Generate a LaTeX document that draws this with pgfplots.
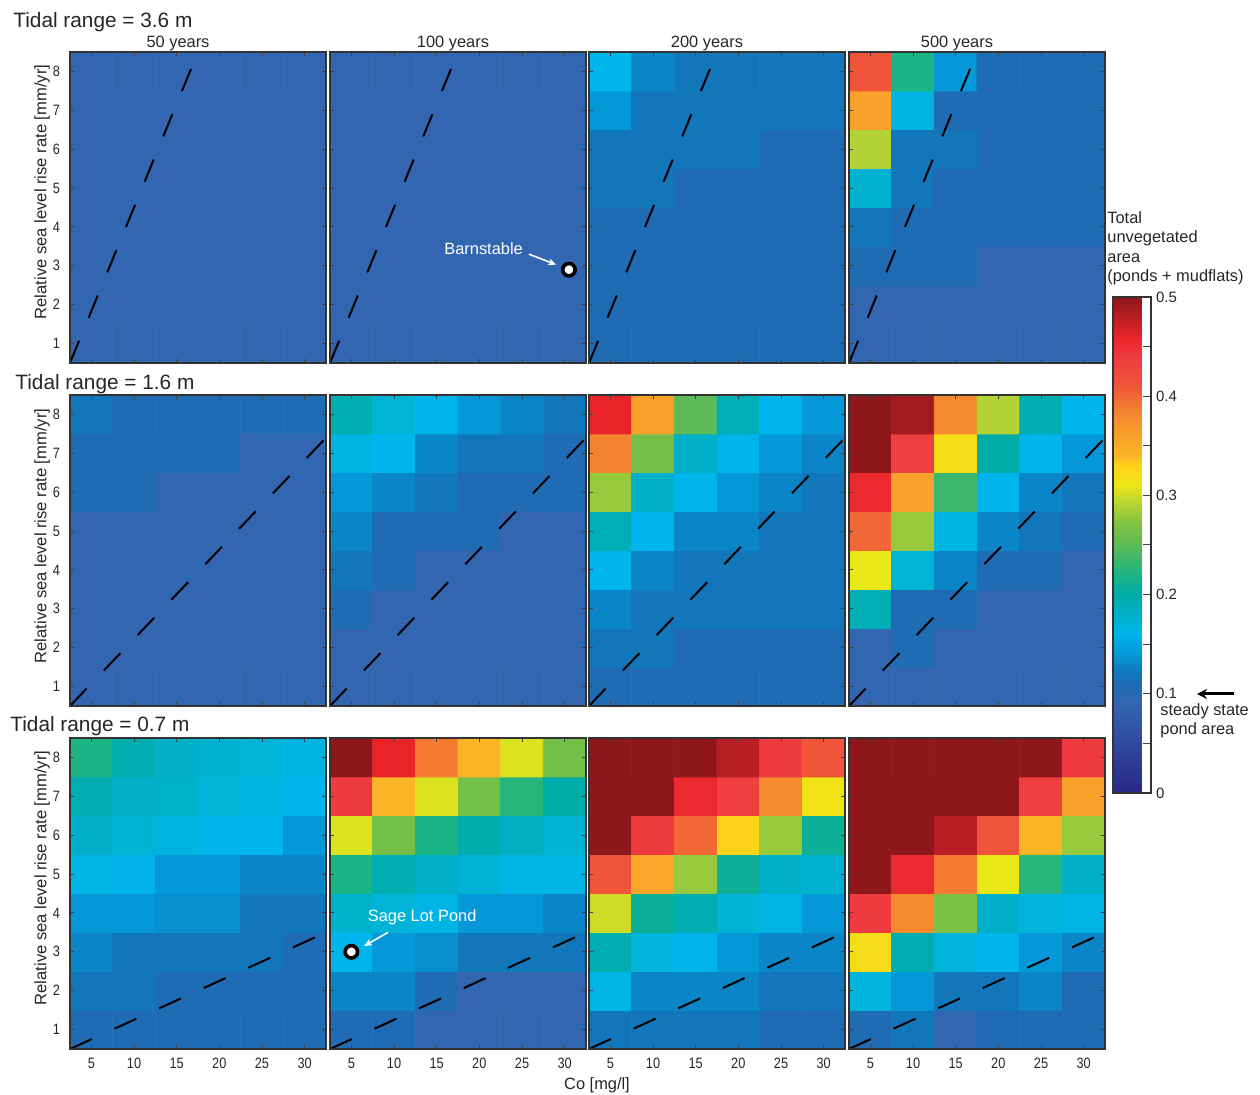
\documentclass[border=0pt]{standalone}
\usepackage{fontspec}
\setmainfont{Liberation Sans}
\newfontfamily\tickfont{Liberation Sans}[FakeStretch=0.85]
\usepackage{pgfplots}
\usepackage{pgfplotstable}
\pgfplotsset{compat=1.18}
\usetikzlibrary{arrows.meta}
\newcommand\fs[2]{\fontsize{#1}{#2}\selectfont}

\pgfplotsset{colormap={tidal}{
 rgb255(0pt)=(40,40,135)
 rgb255(5pt)=(48,72,160)
 rgb255(9pt)=(51,102,176)
 rgb255(11pt)=(31,108,181)
 rgb255(12pt)=(15,120,189)
 rgb255(13pt)=(10,134,200)
 rgb255(14pt)=(5,152,216)
 rgb255(16pt)=(0,180,236)
 rgb255(17pt)=(0,180,216)
 rgb255(18pt)=(0,176,200)
 rgb255(20pt)=(0,172,168)
 rgb255(22pt)=(27,181,133)
 rgb255(25pt)=(93,187,87)
 rgb255(27pt)=(123,193,67)
 rgb255(29pt)=(178,210,53)
 rgb255(31pt)=(234,231,22)
 rgb255(33pt)=(255,211,23)
 rgb255(34pt)=(251,180,38)
 rgb255(36pt)=(249,161,42)
 rgb255(38pt)=(245,138,48)
 rgb255(39pt)=(243,122,48)
 rgb255(41pt)=(240,85,58)
 rgb255(44pt)=(239,59,64)
 rgb255(46pt)=(232,36,40)
 rgb255(48pt)=(184,30,36)
 rgb255(50pt)=(141,23,27)
}}

% columns: p<row><col>, row 1 = tidal range 3.6 m, col 1 = 50 years
\pgfplotstableread{
x y p11 p12 p13 p14 p21 p22 p23 p24 p31 p32 p33 p34
5 1 0.09 0.09 0.11 0.09 0.09 0.09 0.11 0.09 0.11 0.11 0.118 0.11
10 1 0.09 0.09 0.11 0.09 0.09 0.09 0.11 0.09 0.11 0.11 0.118 0.118
15 1 0.09 0.09 0.11 0.09 0.09 0.09 0.11 0.09 0.11 0.09 0.118 0.09
20 1 0.09 0.09 0.11 0.09 0.09 0.09 0.11 0.09 0.11 0.09 0.118 0.11
25 1 0.09 0.09 0.11 0.09 0.09 0.09 0.11 0.09 0.11 0.09 0.11 0.11
30 1 0.09 0.09 0.11 0.09 0.09 0.09 0.11 0.09 0.11 0.09 0.11 0.11
5 2 0.09 0.09 0.11 0.09 0.09 0.09 0.118 0.09 0.118 0.13 0.163 0.168
10 2 0.09 0.09 0.11 0.09 0.09 0.09 0.118 0.11 0.118 0.13 0.13 0.14
15 2 0.09 0.09 0.11 0.09 0.09 0.09 0.11 0.09 0.11 0.11 0.13 0.118
20 2 0.09 0.09 0.11 0.09 0.09 0.09 0.11 0.09 0.11 0.09 0.13 0.118
25 2 0.09 0.09 0.11 0.09 0.09 0.09 0.11 0.09 0.11 0.09 0.118 0.13
30 2 0.09 0.09 0.11 0.09 0.09 0.09 0.11 0.09 0.11 0.09 0.118 0.11
5 3 0.09 0.09 0.11 0.11 0.09 0.11 0.13 0.19 0.13 0.16 0.195 0.32
10 3 0.09 0.09 0.11 0.11 0.09 0.09 0.118 0.11 0.118 0.14 0.168 0.195
15 3 0.09 0.09 0.11 0.11 0.09 0.09 0.118 0.11 0.118 0.135 0.16 0.168
20 3 0.09 0.09 0.11 0.09 0.09 0.09 0.118 0.09 0.118 0.118 0.14 0.16
25 3 0.09 0.09 0.11 0.09 0.09 0.09 0.118 0.09 0.118 0.118 0.13 0.14
30 3 0.09 0.09 0.11 0.09 0.09 0.09 0.118 0.09 0.11 0.118 0.13 0.13
5 4 0.09 0.09 0.11 0.118 0.09 0.118 0.16 0.31 0.14 0.178 0.3 0.44
10 4 0.09 0.09 0.11 0.11 0.09 0.11 0.13 0.17 0.14 0.17 0.21 0.38
15 4 0.09 0.09 0.11 0.11 0.09 0.09 0.118 0.13 0.135 0.163 0.195 0.27
20 4 0.09 0.09 0.11 0.11 0.09 0.09 0.118 0.11 0.135 0.14 0.172 0.18
25 4 0.09 0.09 0.11 0.11 0.09 0.09 0.118 0.11 0.118 0.14 0.163 0.168
30 4 0.09 0.09 0.11 0.11 0.09 0.09 0.118 0.09 0.118 0.13 0.14 0.163
5 5 0.09 0.09 0.118 0.175 0.09 0.13 0.19 0.4 0.163 0.22 0.41 0.5
10 5 0.09 0.09 0.118 0.118 0.09 0.11 0.16 0.28 0.158 0.195 0.355 0.455
15 5 0.09 0.09 0.11 0.11 0.09 0.11 0.13 0.165 0.14 0.18 0.28 0.39
20 5 0.09 0.09 0.11 0.11 0.09 0.11 0.13 0.13 0.14 0.172 0.21 0.31
25 5 0.09 0.09 0.11 0.11 0.09 0.09 0.118 0.118 0.13 0.163 0.18 0.225
30 5 0.09 0.09 0.11 0.11 0.09 0.09 0.118 0.11 0.13 0.163 0.175 0.18
5 6 0.09 0.09 0.118 0.29 0.11 0.14 0.28 0.455 0.18 0.305 0.5 0.5
10 6 0.09 0.09 0.118 0.118 0.11 0.13 0.18 0.36 0.172 0.265 0.44 0.5
15 6 0.09 0.09 0.118 0.118 0.09 0.118 0.16 0.235 0.165 0.22 0.4 0.48
20 6 0.09 0.09 0.118 0.11 0.09 0.11 0.14 0.16 0.16 0.197 0.33 0.41
25 6 0.09 0.09 0.11 0.11 0.09 0.11 0.13 0.13 0.16 0.185 0.28 0.34
30 6 0.09 0.09 0.11 0.11 0.09 0.11 0.118 0.118 0.14 0.172 0.21 0.28
5 7 0.09 0.09 0.14 0.36 0.11 0.165 0.385 0.5 0.195 0.44 0.5 0.5
10 7 0.09 0.09 0.118 0.165 0.11 0.16 0.265 0.435 0.18 0.34 0.5 0.5
15 7 0.09 0.09 0.118 0.11 0.11 0.13 0.18 0.32 0.178 0.305 0.455 0.5
20 7 0.09 0.09 0.118 0.11 0.11 0.118 0.16 0.2 0.17 0.265 0.435 0.5
25 7 0.09 0.09 0.118 0.11 0.09 0.118 0.14 0.16 0.165 0.225 0.38 0.435
30 7 0.09 0.09 0.118 0.11 0.09 0.11 0.13 0.14 0.16 0.2 0.315 0.36
5 8 0.09 0.09 0.16 0.41 0.118 0.195 0.46 0.5 0.22 0.5 0.5 0.5
10 8 0.09 0.09 0.13 0.22 0.11 0.17 0.36 0.49 0.195 0.46 0.5 0.5
15 8 0.09 0.09 0.118 0.14 0.11 0.16 0.25 0.38 0.18 0.39 0.5 0.5
20 8 0.09 0.09 0.118 0.11 0.11 0.14 0.19 0.29 0.175 0.34 0.48 0.5
25 8 0.09 0.09 0.118 0.11 0.11 0.13 0.16 0.195 0.17 0.305 0.44 0.5
30 8 0.09 0.09 0.118 0.11 0.11 0.118 0.14 0.16 0.165 0.265 0.41 0.44
}\tidal

\pgfplotsset{
 panel/.style={
  scale only axis, width=128pt, height=155.5pt, anchor=north west,
  xmin=2.5, xmax=32.5, ymin=0.5, ymax=8.5, enlargelimits=false,
  xtick={5,10,15,20,25,30}, ytick={1,2,3,4,5,6,7,8},
  xticklabels={\empty,\empty,\empty,\empty,\empty,\empty},
  yticklabels={\empty,\empty,\empty,\empty,\empty,\empty,\empty,\empty},
  tick align=inside, major tick length=2.2pt,
  tick style={draw=black!75, line width=0.5pt},
  axis line style={draw=black!80, line width=0.6pt},
  axis on top,
  colormap name=tidal, point meta min=0, point meta max=0.5,
  tick label style={font=\tickfont\fs{7.5}{8}, text=black!85},
  xticklabel style={yshift=-1pt},
  yticklabel style={xshift=-1.5pt},
 },
 xlab/.style={xticklabels={5,10,15,20,25,30}},
 ylab/.style={yticklabels={1,2,3,4,5,6,7,8}},
 dashline/.style={black, line width=1pt, dash pattern=on 12pt off 12.5pt},
 site/.style={only marks, mark=*, mark size=3.1pt, mark options={fill=white, draw=black, line width=1.8pt}},
}

\newcommand\panel[6]{%
\begin{axis}[panel, at={(#1pt,#2pt)}, #4]
\addplot[matrix plot*, mesh/cols=6, point meta=explicit] table[x=x, y=y, meta=#3] {\tidal};
\addplot[dashline] coordinates {(2.5,0.5) #5};
#6
\end{axis}}

\begin{document}
\begin{tikzpicture}
\path[use as bounding box] (0,0) rectangle (630pt,-547.5pt);

% row 1: tidal range 3.6 m
\panel{35}{-26}{p11}{ylab}{(17.5,8.5)}{}
\panel{165}{-26}{p12}{}{(17.5,8.5)}{%
 \addplot[site] coordinates {(30.5,2.9)};
 \node[text=white, font=\fs{8.2}{9}] at (axis cs:20.5,3.43) {Barnstable};
 \draw[white, line width=0.8pt, -{Stealth[length=4pt,width=3.5pt]}] (axis cs:25.8,3.3) -- (axis cs:29.0,3.03);
}
\panel{294.5}{-26}{p13}{}{(17.5,8.5)}{}
\panel{424.5}{-26}{p14}{}{(17.5,8.5)}{}

% row 2: tidal range 1.6 m
\panel{35}{-197.5}{p21}{ylab}{(32.5,7.4)}{}
\panel{165}{-197.5}{p22}{}{(32.5,7.4)}{}
\panel{294.5}{-197.5}{p23}{}{(32.5,7.4)}{}
\panel{424.5}{-197.5}{p24}{}{(32.5,7.4)}{}

% row 3: tidal range 0.7 m
\panel{35}{-369}{p31}{ylab,xlab}{(32.5,3.5)}{}
\panel{165}{-369}{p32}{xlab}{(32.5,3.5)}{%
 \addplot[site] coordinates {(5,3)};
 \node[text=white, font=\fs{8.2}{9}] at (axis cs:13.3,3.88) {Sage Lot Pond};
 \draw[white, line width=0.8pt, -{Stealth[length=4pt,width=3.5pt]}] (axis cs:9.3,3.5) -- (axis cs:6.5,3.15);
}
\panel{294.5}{-369}{p33}{xlab}{(32.5,3.5)}{}
\panel{424.5}{-369}{p34}{xlab}{(32.5,3.5)}{}

% colorbar
\begin{axis}[at={(556pt,-148.5pt)}, anchor=north west, hide axis, scale only axis,
  width=0pt, height=0pt, colormap name=tidal, point meta min=0, point meta max=0.5,
  colorbar,
  colorbar style={at={(parent axis.north west)}, anchor=north west, xshift=-8pt, yshift=0pt,
    scale only axis, width=19pt, height=248pt,
    ytick={0,0.1,0.2,0.3,0.4,0.5}, yticklabels={0,0.1,0.2,0.3,0.4,0.5},
    minor ytick={0.05,0.15,0.25,0.35,0.45},
    tick align=inside, major tick length=4pt, minor tick length=4pt,
    ytick pos=right, yticklabel pos=right,
    tick style={draw=black!75, line width=0.5pt},
    axis line style={draw=black!80, line width=0.6pt},
    yticklabel style={font=\fs{7.5}{8}, text=black!85, xshift=-1pt}}]
\addplot[draw=none] coordinates {(0,0)};
\end{axis}

% titles and labels
\begin{scope}[every node/.style={text=black!85, inner sep=0pt}]
\node[anchor=base west, font=\fs{10.4}{12}] at (6.5pt,-13.75pt) {Tidal range = 3.6 m};
\node[anchor=base west, font=\fs{10.4}{12}] at (7.5pt,-194.75pt) {Tidal range = 1.6 m};
\node[anchor=base west, font=\fs{10.4}{12}] at (5pt,-366pt) {Tidal range = 0.7 m};

\node[anchor=base, font=\fs{8.2}{9}] at (89pt,-23.75pt) {50 years};
\node[anchor=base, font=\fs{8.2}{9}] at (226.5pt,-23.75pt) {100 years};
\node[anchor=base, font=\fs{8.2}{9}] at (353.5pt,-23.75pt) {200 years};
\node[anchor=base, font=\fs{8.2}{9}] at (478.5pt,-23.75pt) {500 years};

\node[rotate=90, font=\fs{8.3}{9}] at (21pt,-96pt) {Relative sea level rise rate [mm/yr]};
\node[rotate=90, font=\fs{8.3}{9}] at (21pt,-268pt) {Relative sea level rise rate [mm/yr]};
\node[rotate=90, font=\fs{8.3}{9}] at (21pt,-439pt) {Relative sea level rise rate [mm/yr]};

\node[font=\fs{8.2}{9}] at (298.5pt,-542.5pt) {Co [mg/l]};

\node[anchor=base west, font=\fs{8.2}{9}] at (553.5pt,-111.75pt) {Total};
\node[anchor=base west, font=\fs{8.2}{9}] at (553.5pt,-121.5pt) {unvegetated};
\node[anchor=base west, font=\fs{8.2}{9}] at (553.5pt,-131.25pt) {area};
\node[anchor=base west, font=\fs{8.2}{9}] at (553.5pt,-141pt) {(ponds + mudflats)};

\node[anchor=base west, font=\fs{8.2}{9}] at (580pt,-358pt) {steady state};
\node[anchor=base west, font=\fs{8.2}{9}] at (580pt,-367.5pt) {pond area};
\end{scope}
\draw[black, line width=1.5pt, -{Stealth[length=5pt,width=5pt]}] (617pt,-347pt) -- (598.5pt,-347pt);
\end{tikzpicture}
\end{document}
